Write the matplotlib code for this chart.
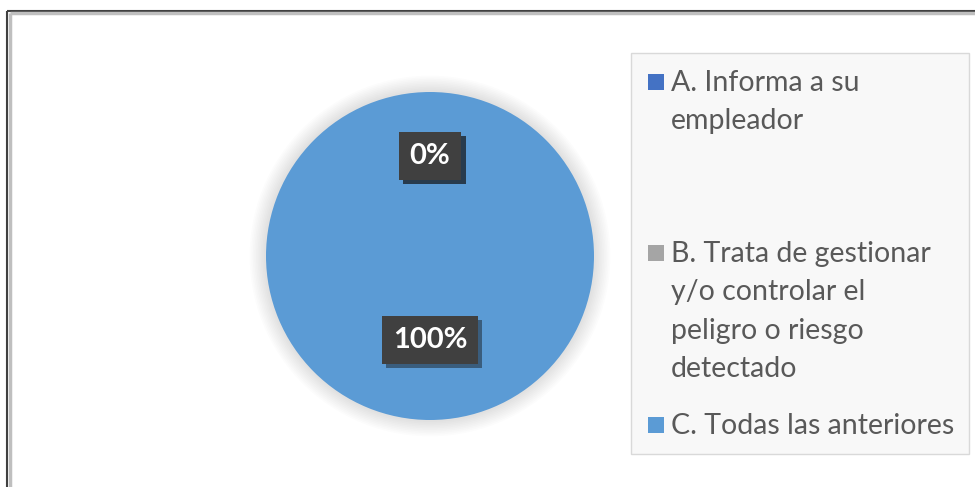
import numpy as np
import matplotlib
matplotlib.use('Agg')
import matplotlib.pyplot as plt
import matplotlib.patheffects as pe
from matplotlib.patches import Rectangle, Circle

plt.rcParams['font.family'] = ['Lato', 'DejaVu Sans']

# datos
categorias = ['A. Informa a su\nempleador',
              'B. Trata de gestionar\ny/o controlar el\npeligro o riesgo\ndetectado',
              'C. Todas las anteriores']
valores = [0, 0, 100]
colores = ['#4472c4', '#a5a5a5', '#5b9bd5']

W, H = 975, 487
fig = plt.figure(figsize=(W / 100, H / 100), dpi=100)
fig.patch.set_facecolor('white')

# marco exterior (borde oscuro + gris)
bg = fig.add_axes([0, 0, 1, 1])
bg.set_xlim(0, W)
bg.set_ylim(H, 0)
bg.axis('off')
bg.plot([6.5, 6.5], [H, 10.5], color='#404040', lw=1.5, solid_capstyle='butt')
bg.plot([6.5, W], [10.5, 10.5], color='#404040', lw=1.5, solid_capstyle='butt')
bg.plot([9.5, 9.5], [H, 13], color='#bfbfbf', lw=2.5, solid_capstyle='butt')
bg.plot([9.5, W], [13, 13], color='#bfbfbf', lw=2.5, solid_capstyle='butt')

# sombra suave del pastel
cx, cy, r = 430, 256, 164
for k in range(10):
    bg.add_patch(Circle((cx, cy), r + 2 + k * 1.6, facecolor='#000000',
                        alpha=0.012, edgecolor='none', zorder=0))

# pastel
ax = fig.add_axes([(cx - r) / W, (H - cy - r) / H, 2 * r / W, 2 * r / H])
wedges, textos, autot = ax.pie(valores, colors=colores, startangle=90, counterclock=False,
                               autopct='%1.0f%%', pctdistance=0.56,
                               wedgeprops=dict(linewidth=0))
ax.set_xlim(-1, 1)
ax.set_ylim(-1, 1)
ax.set_aspect('equal')
for t in autot:
    t.set_color('white')
    t.set_fontsize(21)
    t.set_fontweight('bold')
    t.set_bbox(dict(boxstyle='square,pad=0.38', facecolor='#404040', edgecolor='none'))
    t.get_bbox_patch().set_path_effects([pe.SimplePatchShadow(offset=(3, -3), alpha=0.45),
                                         pe.Normal()])
for t in autot:
    t.set_y(t.get_position()[1] + 0.05)

# leyenda
bg.add_patch(Rectangle((630.5, 52.5), 338, 401, facecolor='#f8f8f8',
                       edgecolor='#d9d9d9', lw=1, zorder=1))
primeras = [83, 254, 426]
paso = 38.4
for lab, col, yc in zip(categorias, colores, primeras):
    bg.add_patch(Rectangle((648, yc - 9), 16, 16, facecolor=col, edgecolor='none', zorder=2))
    for i, linea in enumerate(lab.split('\n')):
        bg.text(671, yc + i * paso, linea, color='#595959', fontsize=20.5,
                va='center', ha='left', zorder=3)

fig.savefig('out.png', dpi=100)
